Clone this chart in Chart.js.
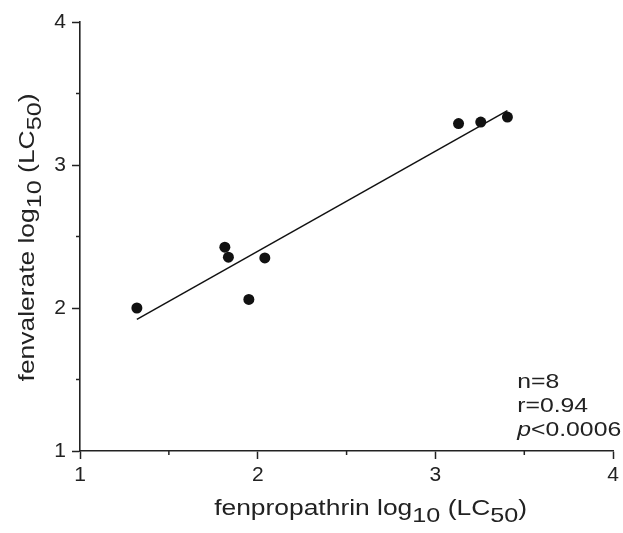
<!DOCTYPE html>
<html>
<head>
<meta charset="utf-8">
<script src="https://cdn.jsdelivr.net/npm/chart.js@4.4.1/dist/chart.umd.min.js"></script>
<style>
  html, body { margin: 0; padding: 0; background: #fff; }
  canvas { display: block; }
</style>
</head>
<body>
<canvas id="scatter-chart" width="623" height="533"></canvas>
<script>
// values
const fenpropathrin = [1.32, 1.815, 1.835, 1.95, 2.04, 3.13, 3.255, 3.405]
const fenvalerate = [2.00, 2.425, 2.355, 2.06, 2.35, 3.29, 3.30, 3.335]
const fitX = [1.32, 3.405]
const fitY = [1.92, 3.38]
const minorTicks = [1.5, 2.5, 3.5]
const statLines = ['n=8', 'r=0.94', '<0.0006']

const ink = '#222'
const fontFamily = '"Liberation Sans", Arial, Helvetica, sans-serif'
let stretch = 1.18

function richWidth(ctx, parts) {
    let w = 0
    parts.forEach(p => {
        ctx.font = p.font
        w += ctx.measureText(p.text).width
    })
    return w * stretch
}

function drawRich(ctx, parts, x, y) {
    ctx.save()
    ctx.translate(x, y)
    ctx.scale(stretch, 1)
    let cx = 0
    parts.forEach(p => {
        ctx.font = p.font
        ctx.fillText(p.text, cx, p.dy || 0)
        cx += ctx.measureText(p.text).width
    })
    ctx.restore()
}

function titleParts(name) {
    const main = '22px ' + fontFamily
    const sub = '21px ' + fontFamily
    return [
        { text: name + ' log', font: main },
        { text: '10', font: sub, dy: 7 },
        { text: ' (LC', font: main },
        { text: '50', font: sub, dy: 7 },
        { text: ')', font: main }
    ]
}

const decorations = {
    id: 'decorations',
    afterDraw(chart) {
        const ctx = chart.ctx
        const xs = chart.scales.x
        const ys = chart.scales.y
        const area = chart.chartArea
        ctx.save()
        ctx.strokeStyle = ink
        ctx.fillStyle = ink
        ctx.lineWidth = 1.5
        // minor ticks
        minorTicks.forEach(v => {
            const px = xs.getPixelForValue(v)
            ctx.beginPath()
            ctx.moveTo(px, area.bottom)
            ctx.lineTo(px, area.bottom + 4)
            ctx.stroke()
            const py = ys.getPixelForValue(v)
            ctx.beginPath()
            ctx.moveTo(area.left, py)
            ctx.lineTo(area.left - 4, py)
            ctx.stroke()
        })
        ctx.textBaseline = 'alphabetic'
        ctx.textAlign = 'left'

        // axis titles
        stretch = 1.2
        const xParts = titleParts('fenpropathrin')
        const xw = richWidth(ctx, xParts)
        drawRich(ctx, xParts, (area.left + area.right) / 2 + 24 - xw / 2, area.bottom + 64)

        const yParts = titleParts('fenvalerate')
        const yw = richWidth(ctx, yParts)
        ctx.save()
        ctx.translate(34, (area.top + area.bottom) / 2 + 1)
        ctx.rotate(-Math.PI / 2)
        drawRich(ctx, yParts, -yw / 2, 0)
        ctx.restore()

        // stats
        stretch = 1.18
        const sx = area.right - 96
        const italic = 'italic 21px ' + fontFamily
        const plain = '21px ' + fontFamily
        drawRich(ctx, [{ text: statLines[0], font: plain }], sx, area.bottom - 63)
        drawRich(ctx, [{ text: statLines[1], font: plain }], sx, area.bottom - 39)
        drawRich(ctx, [{ text: 'p', font: italic }, { text: statLines[2], font: plain }], sx, area.bottom - 15)
        ctx.restore()
    }
}

new Chart(document.getElementById('scatter-chart').getContext('2d'), {
    type: 'scatter',
    data: {
        datasets: [
            {
                label: 'species',
                data: fenpropathrin.map((x, i) => ({ x: x, y: fenvalerate[i] })),
                backgroundColor: '#111',
                borderWidth: 0,
                pointRadius: 5.5
            },
            {
                label: 'fit',
                data: fitX.map((x, i) => ({ x: x, y: fitY[i] })),
                showLine: true,
                borderColor: '#111',
                borderWidth: 1.5,
                pointRadius: 0
            }
        ]
    },
    options: {
        responsive: false,
        devicePixelRatio: 1,
        animation: false,
        layout: { padding: { top: 22, right: 9, left: 0, bottom: 0 } },
        plugins: {
            legend: { display: false },
            tooltip: { enabled: false }
        },
        scales: {
            x: {
                type: 'linear',
                min: 1,
                max: 4,
                afterFit: scale => { scale.height = 82 },
                ticks: {
                    stepSize: 1,
                    color: ink,
                    padding: 4,
                    maxRotation: 0,
                    font: { family: fontFamily, size: 21 }
                },
                grid: { drawOnChartArea: false, tickLength: 8, color: ink, tickWidth: 1.5 },
                border: { display: true, color: ink, width: 1.6 }
            },
            y: {
                type: 'linear',
                min: 1,
                max: 4,
                afterFit: scale => { scale.width = 80 },
                ticks: {
                    stepSize: 1,
                    color: ink,
                    padding: 6,
                    font: { family: fontFamily, size: 21 }
                },
                grid: { drawOnChartArea: false, tickLength: 8, color: ink, tickWidth: 1.5 },
                border: { display: true, color: ink, width: 1.6 }
            }
        }
    },
    plugins: [decorations]
})
</script>
</body>
</html>
